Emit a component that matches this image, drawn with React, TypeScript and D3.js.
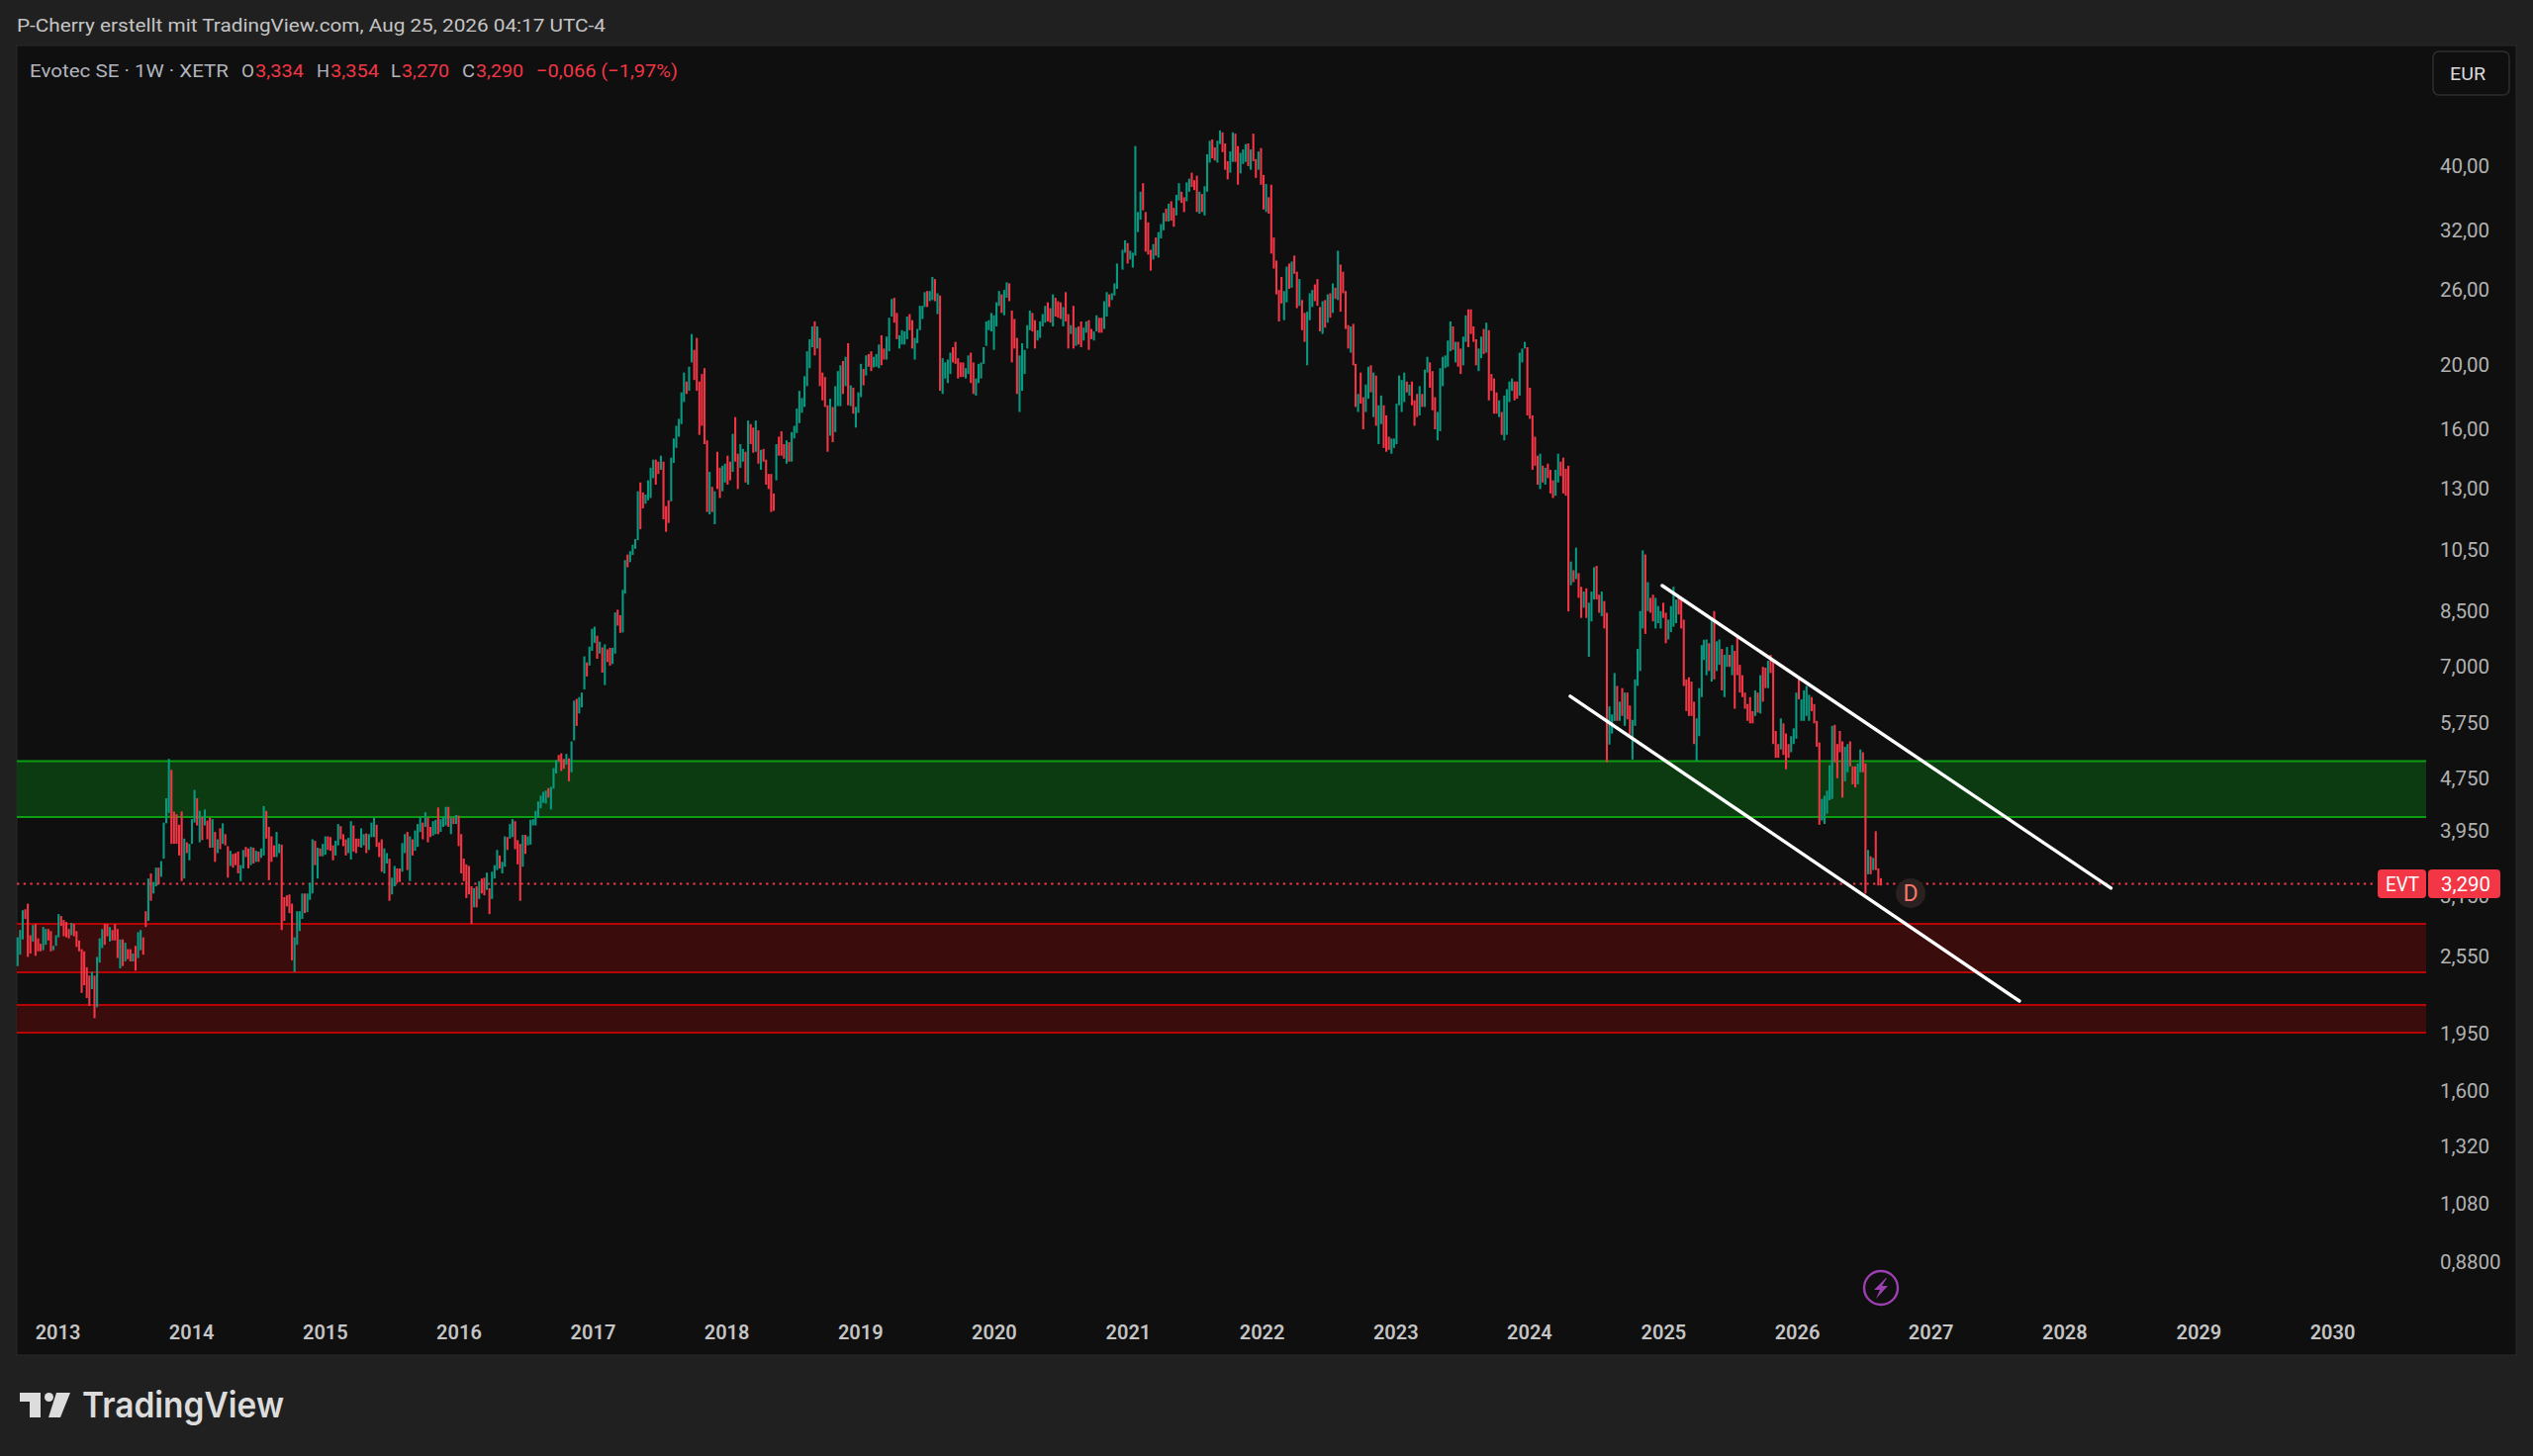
import { useEffect, useRef } from "react";
import * as d3 from "d3";

const width = 2560;
const height = 1472;

// weekly candles, flat [open, close, open, close, ...]
const weekly2012 = [
  2.47,2.73, 2.57,2.80, 2.71,3.00, 3.01,2.91, 3.07,2.55, 2.75,2.58, 2.69,2.85, 2.86,2.56, 2.72,2.60, 2.67,2.60,
  2.61,2.83, 2.66,2.81, 2.81,2.70, 2.79,2.60, 2.61,2.65, 2.65,2.75, 2.73,2.96, 2.94,2.84, 2.90,2.74, 2.88,2.73,
  2.81,2.72, 2.75,2.87, 2.86,2.74, 2.79,2.64, 2.70,2.60, 2.62,2.25, 2.60,2.31, 2.46,2.21, 2.39,2.15, 2.28,2.42,
  2.39,2.06, 2.14,2.55, 2.50,2.72, 2.63,2.81, 2.86,2.66, 2.86,2.74, 2.69,2.83, 2.80,2.70, 2.86,2.70, 2.81,2.54,
  2.45,2.71, 2.71,2.47, 2.51,2.68, 2.62,2.53, 2.62,2.51, 2.51,2.58, 2.65,2.43, 2.54,2.78, 2.61,2.80, 2.73,2.57,
  2.99,2.83, 2.89,3.35, 3.41,3.10, 3.18,3.31, 3.26,3.48, 3.48,3.28, 3.37,3.56, 3.59,4.07, 4.06,4.43, 4.21,5.08,
  4.89,3.78, 4.23,3.78, 4.19,3.78, 4.04,3.63, 4.23,3.32, 3.35,3.85, 3.80,3.66, 3.57,3.78, 3.78,4.12, 4.07,4.56,
  4.43,4.03, 3.80,4.24, 4.15,3.83, 4.03,4.26, 4.10,3.84, 4.14,3.73, 3.73,4.12, 3.94,3.55, 3.66,3.84, 3.99,3.71,
  3.78,4.06, 3.91,3.76, 3.75,3.36, 3.50,3.69, 3.65,3.48, 3.66,3.51, 3.68,3.41, 3.32,3.51, 3.47,3.70, 3.74,3.61,
  3.72,3.47, 3.51,3.74, 3.73,3.53, 3.55,3.69, 3.68,3.55, 3.60,3.72, 3.63,4.31, 4.24,3.85, 4.01,3.33, 3.88,3.55,
  3.76,3.61, 3.61,3.94, 3.66,3.78, 3.77,2.80, 3.14,2.89, 3.16,3.04, 3.17,2.97, 3.07,2.52, 2.42,2.73, 2.66,2.99,
  2.79,2.99, 2.91,3.18, 3.18,2.97, 2.98,3.18, 3.11,3.30, 3.18,3.84, 3.82,3.51, 3.35,3.73, 3.72,3.62, 3.62,3.78,
  3.64,3.88, 3.88,3.70, 3.87,3.69, 3.76,3.57, 3.63,3.82, 3.76,4.05, 4.02,3.84, 3.91,3.75, 3.84,3.63, 3.66,3.86,
  3.58,4.09, 4.03,3.68, 3.85,3.66, 3.85,3.74, 3.73,3.99, 3.76,3.91, 3.92,3.66, 3.70,3.91, 3.87,4.07, 3.87,4.14,
  4.04,3.74, 3.80,3.61, 3.84,3.43, 3.41,3.72, 3.53,3.66, 3.59,3.10, 3.17,3.36, 3.26,3.50, 3.47,3.30, 3.47,3.31,
  3.43,3.79, 3.66,3.91, 3.94,3.45, 3.32,3.88, 3.84,3.63, 3.69,3.96, 3.74,4.05, 3.94,4.15, 4.07,3.84, 4.01,4.22,
  4.14,3.80, 4.01,3.87, 3.89,4.09, 3.91,4.11, 4.29,3.91, 3.94,4.12, 4.01,4.15, 4.03,4.30, 4.30,4.01, 3.91,4.14,
  4.14,4.05, 4.05,4.18, 4.17,3.75, 3.91,3.41, 3.59,3.32, 3.52,3.13, 3.50,3.17, 3.26,2.86, 3.03,3.24, 3.26,3.03,
  3.12,3.32, 3.35,3.18, 3.36,3.16, 3.22,3.42, 3.24,2.96, 3.12,3.43, 3.35,3.51, 3.45,3.70, 3.63,3.47, 3.41,3.55,
  3.49,3.88, 3.87,3.70, 3.85,4.05, 3.87,4.12, 4.09,3.71, 3.83,3.52, 3.78,3.10, 3.49,3.90, 3.90,3.65, 3.76,3.88,
  3.77,4.11, 4.03,4.12, 4.03,4.24, 4.14,4.38, 4.28,4.47, 4.36,4.53, 4.35,4.55, 4.59,4.44, 4.26,4.61, 4.58,4.92,
  4.83,5.06, 5.15,5.04, 5.18,4.87, 5.08,4.91, 4.98,5.17, 5.09,4.70, 4.85,5.40,
];
const weekly2016 = [
  5.42,6.22, 6.26,5.70, 5.95,6.30, 6.08,6.40, 6.47,7.26, 7.11,6.77, 7.03,7.51, 7.40,7.99, 7.61,8.05, 7.80,7.20,
  7.33,7.64, 7.49,6.86, 6.57,7.57, 7.44,7.12, 7.48,7.03, 7.07,7.48, 7.33,8.46, 8.54,8.08, 8.38,7.88, 7.89,9.15,
];
const weekly2017 = [
  9.03,10.15, 10.35,9.90, 10.08,10.47, 10.33,10.71, 10.56,10.92, 10.88,12.9, 13.3,11.3, 12.85,12.15, 12.35,12.75, 12.5,13.4,
  12.6,14.0, 13.5,14.4, 14.4,13.2, 14.3,13.7, 13.9,14.6, 14.3,11.7, 12.25,11.2, 12.5,11.55, 12.45,14.5, 14.24,15.5,
  15.0,16.2, 15.6,16.6, 16.3,18.2, 17.6,19.5, 18.9,18.1, 18.3,19.9, 20.2,22.3, 21.1,19.0, 22.0,18.3, 18.9,15.7,
  19.4,16.2, 19.8,15.2, 15.4,12.0, 11.9,13.8, 13.1,12.0, 11.5,12.9, 14.8,13.0, 14.0,12.6, 12.9,14.1, 13.3,14.2,
  14.6,13.2, 14.3,13.4, 13.8,15.75, 16.7,14.3, 14.7,13.0, 14.0,15.2, 14.3,14.95, 14.8,13.3, 13.2,16.5, 16.3,15.2,
  16.1,14.75, 14.8,16.5, 15.95,14.2, 13.9,14.9, 14.95,14.3, 14.4,13.2, 13.7,13.0, 13.7,12.0, 12.8,12.05, 13.4,15.2,
  15.6,14.6, 15.9,14.6, 15.2,14.45, 14.2,15.4, 15.3,14.3, 14.3,15.85, 15.5,16.2, 15.8,17.2, 16.35,18.3, 16.95,17.85,
  17.3,19.25, 18.6,21.0, 19.8,21.9, 21.3,22.9, 23.3,20.7, 21.2,22.9, 22.0,18.6, 19.5,17.7, 19.2,17.3, 17.4,14.8,
  15.65,17.8, 17.3,15.3, 15.85,18.6, 17.35,19.6, 17.35,20.0, 20.3,18.1, 18.6,20.6, 21.6,17.4, 17.35,18.65, 18.5,16.9,
  16.1,17.3, 16.95,18.2, 17.9,20.1, 19.75,18.65, 19.3,20.7, 20.8,19.9, 21.0,19.6, 19.85,20.6, 19.9,20.8, 19.8,21.5,
  22.2,20.0, 21.2,20.4, 20.4,22.1, 21.0,23.6, 23.7,25.2, 25.3,23.2, 24.0,21.9, 21.2,22.2, 21.5,22.6, 21.5,22.5,
  21.9,23.7, 23.9,22.6, 23.4,21.2, 20.4,22.0, 21.6,22.7, 22.6,24.6, 23.5,24.6,
];
const weekly2019 = [
  24.5,25.8, 25.9,24.5, 25.0,25.9, 25.1,27.2, 27.0,25.0, 23.9,25.7, 25.5,18.3, 18.1,20.5, 19.1,20.2, 18.8,20.4,
  19.4,20.9, 21.3,20.2, 21.7,20.1, 20.5,19.1, 20.2,19.2, 20.2,19.2, 19.1,19.8, 19.4,20.7, 20.9,18.8, 20.2,18.1,
  18.0,19.1, 18.8,20.1, 19.1,20.2, 20.1,21.3, 21.4,23.3, 22.6,23.4, 22.5,24.0, 21.1,23.8, 22.9,24.9, 24.6,25.9,
  25.6,24.0, 23.8,26.0, 25.3,26.7, 26.6,25.0, 24.2,20.2, 23.5,21.2, 22.0,18.1, 17.0,20.7, 18.3,21.6, 19.4,21.1,
  21.2,23.0, 22.6,24.2, 24.0,22.5, 23.4,21.2, 21.8,22.6, 22.0,23.3, 22.9,23.9, 23.2,24.6, 24.9,23.3, 24.4,23.2,
  22.9,25.6, 25.3,23.7, 25.0,23.6, 24.9,23.5, 22.9,24.5, 25.8,23.3, 23.9,21.2, 22.3,23.0, 24.6,21.2, 21.4,22.8,
  22.9,21.5, 23.3,21.3, 21.8,22.8, 22.4,23.3, 23.4,21.1, 22.7,21.9, 21.8,22.5, 22.5,23.8, 23.6,22.4, 23.6,22.4,
  22.7,25.0, 23.7,25.8, 25.6,24.5, 25.1,25.7, 25.5,26.6, 26.1,28.5,
];
const weekly2020 = [
  27.9,29.9, 29.6,30.9, 30.6,28.5, 28.9,29.8, 28.1,29.6, 29.3,42.9, 31.8,34.1, 33.2,36.6, 37.7,34.3, 34.1,29.7,
  32.9,29.4, 29.9,27.8, 28.9,30.5, 31.2,29.3, 29.1,31.8, 31.1,32.7, 32.0,34.0, 34.5,33.0, 33.0,35.1, 35.4,33.1,
  34.6,32.4, 33.7,36.2, 35.5,37.7, 36.6,35.2, 35.9,34.1, 35.4,37.8, 36.6,38.3, 39.1,37.2, 38.1,36.8, 38.7,34.1,
  33.9,36.6, 36.3,34.1, 33.7,37.3, 36.6,41.7, 40.5,43.7, 43.9,41.1, 42.7,40.8, 40.5,43.7, 43.2,45.3, 45.0,42.0,
  43.3,39.5, 40.7,38.2, 39.1,42.1, 40.6,45.0, 44.8,40.6, 42.9,37.5, 39.0,41.9, 40.3,42.4, 40.6,43.2, 43.3,40.0,
  39.5,42.4, 44.8,40.7, 41.0,38.4, 39.5,42.1, 42.6,37.5, 38.8,34.4, 34.1,37.6, 35.9,33.9, 37.5,29.5, 31.2,28.0,
  28.8,25.6, 26.0,23.3, 27.2,24.8, 23.4,25.9, 24.9,28.2, 28.5,26.1, 26.2,28.7, 29.3,27.5, 27.7,24.4, 24.6,27.0,
  25.1,22.6, 24.0,21.7, 20.0,24.1, 23.4,25.7, 24.5,26.0, 26.5,25.0, 27.0,24.6, 24.5,22.5, 22.3,25.0, 25.1,22.8,
  23.2,25.6, 25.7,23.6, 24.0,26.6, 26.2,25.2, 25.1,29.8, 28.4,24.1, 27.7,25.7, 25.9,22.7, 23.0,21.2, 20.9,22.9,
  23.1,20.0,
];
const weekly2022 = [
  20.1,17.3, 17.0,18.1, 19.5,17.5, 17.9,16.0, 17.0,18.7, 17.8,19.9, 20.0,18.2, 16.7,19.5, 19.3,16.2, 15.2,17.4,
  16.3,18.0, 17.4,15.0, 16.8,14.8, 15.6,14.9, 14.7,15.5, 15.0,15.5, 15.2,17.5, 17.4,19.3, 17.0,19.0, 17.6,19.5,
  18.9,18.2, 18.0,18.7, 18.9,17.4, 17.7,16.2, 18.1,16.7, 16.8,18.6, 18.1,17.3, 17.3,19.7, 19.5,20.6, 20.2,18.5,
  19.6,17.1, 17.9,16.0, 15.4,17.0, 15.9,19.8, 18.6,20.6, 19.8,20.7, 19.9,21.8, 21.0,23.3, 22.9,21.1, 20.2,21.7,
  21.7,19.9, 21.2,19.4, 20.0,22.1, 21.7,23.8, 24.3,21.3, 24.3,22.3, 22.9,21.7, 21.9,20.0, 19.6,21.2, 20.5,22.1,
  22.7,20.8, 20.9,23.2, 22.6,17.7, 19.4,18.3, 19.1,16.9, 18.2,16.9, 16.7,17.7, 17.0,15.7, 15.4,18.0, 15.7,18.4,
  17.6,18.9, 18.3,19.1, 18.9,17.7, 18.9,17.8, 18.0,20.9, 20.2,21.2, 21.2,21.7, 21.3,16.8, 18.5,16.6, 16.8,13.9,
  15.6,14.1, 14.6,13.2, 13.0,14.7, 14.1,13.3, 13.2,14.0, 14.2,13.5, 13.9,12.8, 13.4,12.6, 12.7,13.9, 13.3,14.7,
  14.3,13.6, 14.5,12.8,
];
const weekly2024 = [
  13.95,12.7, 14.1,8.49, 9.3,10.1, 9.8,9.4, 9.5,10.6, 9.7,8.9, 9.25,8.3, 8.6,9.1, 9.2,8.3, 7.25,8.75,
  8.2,9.1, 8.85,9.9, 9.95,8.85, 9.0,8.45, 8.35,9.1, 8.8,8.0, 8.45,5.02, 5.34,6.1, 5.55,5.93, 5.8,6.85,
  6.55,5.8, 5.8,6.2, 6.5,5.9, 5.7,6.4, 6.4,5.83, 6.12,5.53, 5.07,5.82, 5.7,6.7, 6.55,7.45, 6.9,8.5,
  8.0,10.5, 10.35,7.85, 8.5,9.4, 8.9,8.45, 9.0,8.2, 8.0,8.9, 8.15,8.65, 8.0,8.5, 8.75,8.3, 8.45,7.6,
  7.7,8.25, 7.9,8.65, 8.05,9.25, 8.15,8.85, 8.9,8.4, 8.9,8.0, 8.25,6.55, 6.7,6.0, 6.75,5.9, 6.65,5.9,
  6.2,5.35, 5.05,5.85, 5.5,6.5, 6.3,7.55,
];
const weekly2025 = [
  7.17,7.69, 6.8,7.7, 7.6,6.9, 6.65,8.3, 8.5,6.7, 6.9,7.65, 7.05,7.7, 7.45,6.45, 6.3,7.3, 7.0,7.5,
  7.3,7.0, 6.8,7.55, 7.4,6.05, 7.8,6.8, 7.05,6.4, 6.8,6.3, 6.4,6.05, 6.15,5.8, 6.3,5.75, 6.0,5.75,
  5.9,6.45, 6.4,5.97, 5.95,6.8, 7.0,6.2, 6.98,6.5, 6.5,7.15, 7.3,6.85, 7.15,5.35, 5.6,5.1, 5.35,5.1,
  5.25,5.85, 5.75,5.15, 5.55,4.9, 5.35,5.1, 5.2,5.5, 5.35,5.65, 5.45,6.4, 6.7,6.25, 5.8,6.25, 5.8,6.45,
  5.9,6.55, 5.8,6.35, 6.3,6.0, 6.15,5.75, 5.8,5.3, 5.38,4.04, 4.1,4.42, 4.05,4.47, 4.2,4.55, 4.4,4.97,
  4.42,5.7, 5.72,5.02, 5.35,4.75, 5.6,5.2, 5.4,4.44, 4.7,5.3, 4.85,5.35, 5.4,4.95, 4.95,4.65, 4.95,4.6,
  4.65,5.0, 4.85,5.25, 5.2,4.85, 5.0,3.18, 3.4,3.7, 3.62,3.4, 3.45,3.6, 3.95,3.45, 3.47,3.27, 3.354,3.27,
];

const series = [
  { start: "2012-09-17", values: weekly2012 },
  { start: "2016-11-14", values: weekly2016 },
  { start: "2017-04-02", values: weekly2017 },
  { start: "2019-06-29", values: weekly2019 },
  { start: "2020-12-20", values: weekly2020 },
  { start: "2022-09-17", values: weekly2022 },
  { start: "2024-04-13", values: weekly2024 },
  { start: "2025-04-25", values: weekly2025 },
];

const priceTicks = [40, 32, 26, 20, 16, 13, 10.5, 8.5, 7, 5.75, 4.75, 3.95, 3.15, 2.55, 1.95, 1.6, 1.32, 1.08, 0.88];
const priceLabels = ["40,00", "32,00", "26,00", "20,00", "16,00", "13,00", "10,50", "8,500", "7,000", "5,750", "4,750", "3,950", "3,150", "2,550", "1,950", "1,600", "1,320", "1,080", "0,8800"];
const years = d3.range(2013, 2031);

const greenZones = [[5.04, 4.15]];
const redZones = [[2.861, 2.417], [2.157, 1.959]];
const lastClose = 3.29;
const trendLines = [
  { from: ["2025-01-01", 9.29], to: ["2028-05-10", 3.24] },
  { from: ["2024-04-25", 6.32], to: ["2027-09-03", 2.187] },
];
const legendItems = [
  ["Evotec SE · 1W · XETR", 30, 201, "#b2b5be"],
  ["O", 244, 13, "#b2b5be"], ["3,334", 258, 49, "#f23645"],
  ["H", 320, 13, "#b2b5be"], ["3,354", 334, 49, "#f23645"],
  ["L", 395, 10, "#b2b5be"], ["3,270", 406, 48, "#f23645"],
  ["C", 467, 13, "#b2b5be"], ["3,290", 481, 48, "#f23645"],
  ["−0,066 (−1,97%)", 542, 143, "#f23645"],
];

const UP = "#089981";
const DOWN = "#f23645";
const FONT = "Roboto, 'Noto Sans', sans-serif";

export default function App() {
  const svgRef = useRef<SVGSVGElement | null>(null);

  useEffect(() => {
    if (!svgRef.current) return;
    const svg = d3.select(svgRef.current);
    svg.selectAll("*").remove();

    const x = d3
      .scaleUtc()
      .domain([new Date("2013-01-01"), new Date("2030-01-01")])
      .range([57, 2356]);
    const y = d3.scaleLog().domain([40, 0.88]).range([168, 1276.4]);

    svg.append("rect").attr("width", width).attr("height", height).attr("fill", "#202020");
    svg
      .append("rect")
      .attr("x", 17)
      .attr("y", 46)
      .attr("width", 2526)
      .attr("height", 1324)
      .attr("fill", "#0f0f0f")
      .attr("stroke", "#2a2a2a");

    const zone = (bands: number[][], fill: string, stroke: string) => {
      bands.forEach(([top, bottom]) => {
        svg
          .append("rect")
          .attr("x", 17)
          .attr("y", y(top))
          .attr("width", 2452 - 17)
          .attr("height", y(bottom) - y(top))
          .attr("fill", fill);
        [top, bottom].forEach((p) =>
          svg
            .append("line")
            .attr("x1", 17)
            .attr("x2", 2452)
            .attr("y1", y(p))
            .attr("y2", y(p))
            .attr("stroke", stroke)
            .attr("stroke-width", 2)
        );
      });
    };
    zone(greenZones, "#0c3b11", "#0b9e14");
    zone(redZones, "#3a0c0c", "#b80404");

    // last price line
    svg
      .append("line")
      .attr("x1", 17)
      .attr("x2", 2398)
      .attr("y1", y(lastClose))
      .attr("y2", y(lastClose))
      .attr("stroke", DOWN)
      .attr("stroke-width", 2)
      .attr("stroke-dasharray", "2.4 4.3");

    const week = 7 * 24 * 3600 * 1000;
    const candles = series.flatMap((s) =>
      d3.range(0, s.values.length, 2).map((i) => ({
        date: new Date(new Date(s.start).getTime() + (i / 2) * week),
        open: s.values[i],
        close: s.values[i + 1],
      }))
    );
    svg
      .append("g")
      .selectAll("line")
      .data(candles)
      .join("line")
      .attr("x1", (d) => x(d.date))
      .attr("x2", (d) => x(d.date))
      .attr("y1", (d) => y(d.open))
      .attr("y2", (d) => y(d.close))
      .attr("stroke", (d) => (d.close >= d.open ? UP : DOWN))
      .attr("stroke-width", 2.1);

    trendLines.forEach((l) =>
      svg
        .append("line")
        .attr("x1", x(new Date(l.from[0] as string)))
        .attr("y1", y(l.from[1] as number))
        .attr("x2", x(new Date(l.to[0] as string)))
        .attr("y2", y(l.to[1] as number))
        .attr("stroke", "#ffffff")
        .attr("stroke-width", 3.4)
        .attr("stroke-linecap", "round")
    );

    // axes
    const yAxis = d3
      .axisRight(y)
      .tickValues(priceTicks)
      .tickSize(0)
      .tickFormat((_, i) => priceLabels[i]);
    const gy = svg.append("g").attr("transform", "translate(2466,0)").call(yAxis);
    gy.select(".domain").remove();
    gy.selectAll("text")
      .attr("x", 0)
      .attr("fill", "#b2b2b2")
      .attr("font-family", FONT)
      .attr("font-size", 20.5)
      .attr("text-anchor", "start");

    const xAxis = d3
      .axisBottom(x)
      .tickValues(years.map((yr) => new Date(Date.UTC(yr, 0, 1))))
      .tickSize(0)
      .tickFormat((d) => d3.utcFormat("%Y")(d as Date));
    const gx = svg.append("g").attr("transform", "translate(1,1340)").call(xAxis);
    gx.select(".domain").remove();
    gx.selectAll("text")
      .attr("y", 0)
      .attr("dy", "0.71em")
      .attr("fill", "#c4c4c4")
      .attr("font-family", FONT)
      .attr("font-weight", 600)
      .attr("font-size", 20);

    const label = (s: string, px: number, py: number, len: number, fill: string, size = 19) =>
      svg
        .append("text")
        .attr("x", px)
        .attr("y", py)
        .attr("fill", fill)
        .attr("font-family", FONT)
        .attr("font-size", size)
        .attr("textLength", len)
        .attr("lengthAdjust", "spacingAndGlyphs")
        .text(s);

    label("P-Cherry erstellt mit TradingView.com, Aug 25, 2026 04:17 UTC-4", 17, 32, 595, "#c4c4c4");
    legendItems.forEach(([s, px, len, fill]) =>
      label(s as string, px as number, 78, len as number, fill as string)
    );

    // price tag
    svg.append("rect").attr("x", 2403).attr("y", 879).attr("width", 49).attr("height", 29).attr("rx", 4).attr("fill", "#f23645");
    svg.append("rect").attr("x", 2454).attr("y", 879).attr("width", 73).attr("height", 29).attr("rx", 4).attr("fill", "#f23645");
    label("EVT", 2411, 901, 34, "#ffffff", 20);
    label("3,290", 2467, 901, 50, "#ffffff", 20);

    // currency button
    svg.append("rect").attr("x", 2459).attr("y", 52).attr("width", 77).attr("height", 44).attr("rx", 6).attr("fill", "#0f0f0f").attr("stroke", "#2e2e2e").attr("stroke-width", 1.5);
    label("EUR", 2476, 81, 36, "#dbdbdb");

    // dividend marker
    svg.append("circle").attr("cx", 1931).attr("cy", 903).attr("r", 15).attr("fill", "#2b2120");
    svg
      .append("text")
      .attr("x", 1931)
      .attr("y", 911)
      .attr("text-anchor", "middle")
      .attr("fill", "#f7796b")
      .attr("font-family", FONT)
      .attr("font-size", 23)
      .text("D");

    // flash icon
    svg.append("circle").attr("cx", 1901).attr("cy", 1302).attr("r", 17).attr("fill", "none").attr("stroke", "#9c3fb0").attr("stroke-width", 2.4);
    svg.append("path").attr("d", "M1906 1292 L1894 1304 L1900 1304 L1896 1313 L1908 1300 L1902 1300 L1907 1292 Z").attr("fill", "#9c3fb0");

    // logo
    svg.append("path").attr("d", "M20 1408 H41 V1433 H30 V1417 H20 Z M57 1408 H71 L61 1433 H49 Z").attr("fill", "#dcdcdc");
    svg.append("circle").attr("cx", 49.5).attr("cy", 1412.5).attr("r", 4.5).attr("fill", "#dcdcdc");
    svg
      .append("text")
      .attr("x", 83)
      .attr("y", 1433)
      .attr("fill", "#dcdcdc")
      .attr("font-family", "Inter, Roboto, sans-serif")
      .attr("font-weight", 600)
      .attr("font-size", 36)
      .attr("textLength", 204)
      .attr("lengthAdjust", "spacingAndGlyphs")
      .text("TradingView");
  }, []);

  return (
    <svg
      ref={svgRef}
      width={width}
      height={height}
      viewBox={`0 0 ${width} ${height}`}
      style={{ position: "absolute", left: 0, top: 0 }}
    />
  );
}
